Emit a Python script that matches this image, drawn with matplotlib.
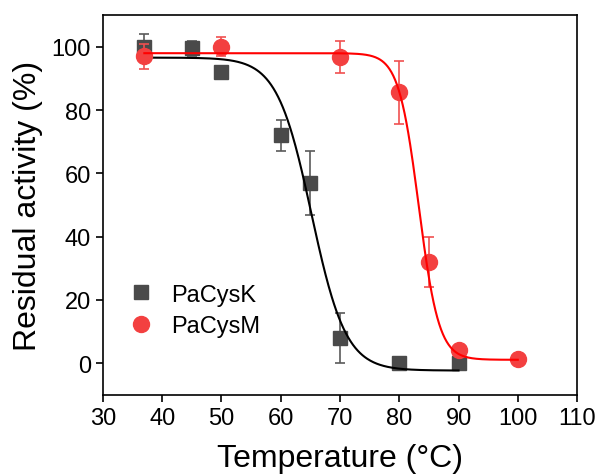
import numpy as np
import matplotlib.pyplot as plt

plt.rcParams['font.family'] = ['Liberation Sans', 'DejaVu Sans']

# PaCysK data
k_temp = [37, 45, 50, 60, 65, 70, 80, 90]
k_act = [100, 99.5, 92, 72, 57, 8, 0, 0]
k_err = [4, 2.5, 0, 5, 10, 8, 0, 0]

# PaCysM data
m_temp = [37, 50, 70, 80, 85, 90, 100]
m_act = [97, 100, 96.8, 85.6, 32, 4.2, 1.3]
m_err = [4, 3, 5, 10, 8, 0, 0]

# Boltzmann fit parameters (top, bottom, x0, dx) and fitted range
k_fit = (96.6, -2.3, 65.2, 2.9)
k_range = (37, 90)
m_fit = (98.0, 1.1, 83.3, 1.7)
m_range = (37, 100)


def boltzmann(x, top, bottom, x0, dx):
    return bottom + (top - bottom) / (1 + np.exp((x - x0) / dx))


fig = plt.figure(figsize=(5.98, 4.77), dpi=100)
ax = fig.add_axes([0.172, 0.170, 0.793, 0.796])

xk = np.linspace(*k_range, 400)
xm = np.linspace(*m_range, 400)

ax.errorbar(k_temp, k_act, yerr=k_err, fmt='none', ecolor='#5a5a5a',
            elinewidth=1.2, capsize=3.5, capthick=1.2, zorder=2)
ax.plot(k_temp, k_act, 's', color='#4a4a4a', markersize=9.5, zorder=3,
        label='PaCysK', linestyle='none')
ax.plot(xk, boltzmann(xk, *k_fit), color='black', lw=1.5, zorder=4)

ax.errorbar(m_temp, m_act, yerr=m_err, fmt='none', ecolor='#f05050',
            elinewidth=1.2, capsize=3.5, capthick=1.2, zorder=5)
ax.plot(m_temp, m_act, 'o', color='#f34040', markersize=11.5, zorder=6,
        label='PaCysM', linestyle='none')
ax.plot(xm, boltzmann(xm, *m_fit), color='#ff0000', lw=1.5, zorder=7)

ax.set_xlim(30, 110)
ax.set_ylim(-10, 110)
ax.set_xticks(np.arange(30, 111, 10))
ax.set_yticks(np.arange(0, 101, 20))
ax.tick_params(direction='out', length=5, width=1.2, labelsize=17)
for s in ax.spines.values():
    s.set_linewidth(1.2)

ax.set_xlabel('Temperature (°C)', fontsize=23, labelpad=10)
ax.set_ylabel('Residual activity (%)', fontsize=23, labelpad=6)

ax.legend(loc='lower left', bbox_to_anchor=(0.0, 0.115), frameon=False,
          fontsize=17, handletextpad=0.3, borderaxespad=0.2, labelspacing=0.4)

fig.savefig('out.png', dpi=100)
